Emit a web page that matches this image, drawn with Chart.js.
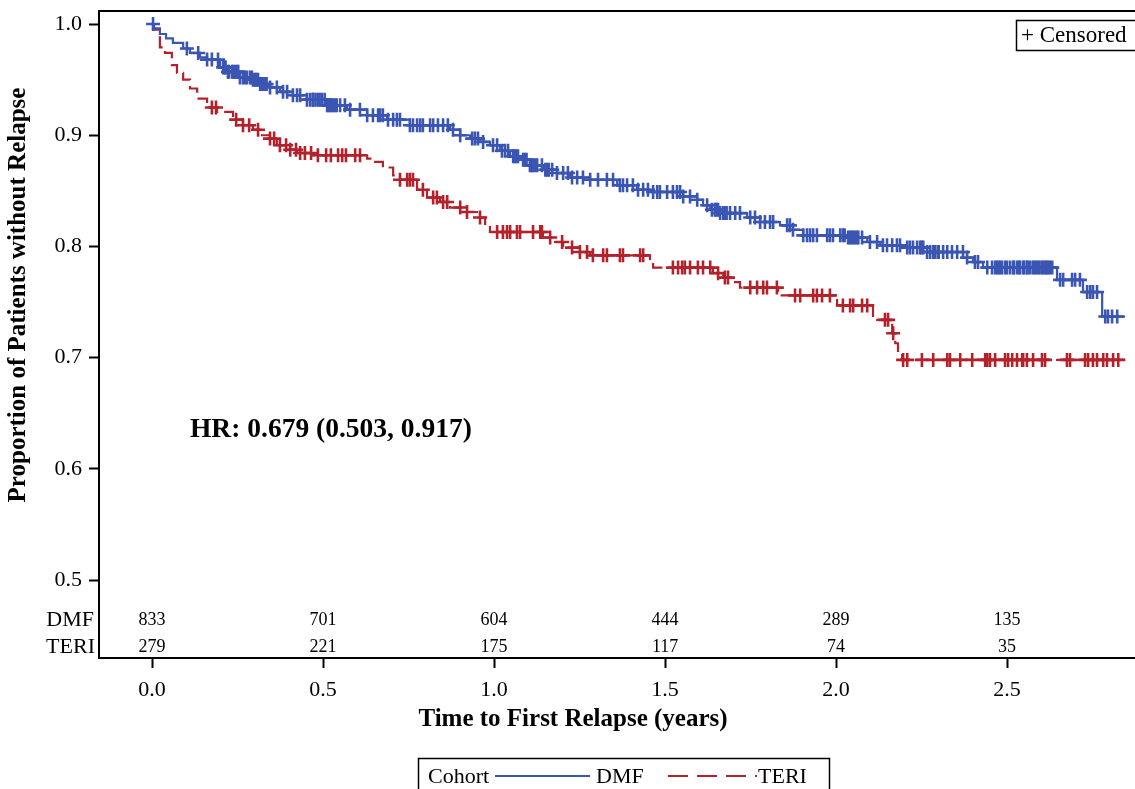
<!DOCTYPE html>
<html>
<head>
<meta charset="utf-8">
<script src="https://cdn.jsdelivr.net/npm/chart.js@4.4.1/dist/chart.umd.min.js"></script>
<style>
  html, body { margin: 0; padding: 0; background: #ffffff; }
  #wrap { width: 1135px; height: 789px; position: relative; }
</style>
</head>
<body>
<div id="wrap"><canvas id="c" width="1135" height="789"></canvas></div>
<script>
// ---------------- DATA ----------------
const xTicks = [0.0, 0.5, 1.0, 1.5, 2.0, 2.5];
const yTicks = [0.5, 0.6, 0.7, 0.8, 0.9, 1.0];

// DMF Kaplan-Meier step curve (time in years, survival after each step)
const dmfTimes = [0, 0.006, 0.023, 0.041, 0.061, 0.091, 0.111, 0.140, 0.161, 0.199, 0.219, 0.257, 0.295, 0.316, 0.336, 0.374, 0.412, 0.453, 0.512, 0.570, 0.629, 0.687, 0.754, 0.871, 0.901, 0.930, 0.959, 0.988, 1.018, 1.047, 1.076, 1.105, 1.143, 1.184, 1.222, 1.281, 1.360, 1.418, 1.456, 1.553, 1.594, 1.611, 1.632, 1.661, 1.740, 1.778, 1.836, 1.874, 1.904, 2.032, 2.091, 2.129, 2.208, 2.266, 2.383, 2.401, 2.430, 2.646, 2.722, 2.778, 2.845];
const dmfSurv = [1.000, 0.996, 0.991, 0.987, 0.983, 0.978, 0.974, 0.970, 0.968, 0.961, 0.957, 0.952, 0.950, 0.946, 0.943, 0.939, 0.936, 0.932, 0.927, 0.923, 0.918, 0.914, 0.909, 0.905, 0.900, 0.897, 0.894, 0.891, 0.886, 0.881, 0.878, 0.873, 0.869, 0.866, 0.862, 0.860, 0.855, 0.851, 0.849, 0.845, 0.842, 0.837, 0.833, 0.830, 0.826, 0.822, 0.819, 0.815, 0.810, 0.808, 0.804, 0.801, 0.799, 0.795, 0.790, 0.786, 0.781, 0.770, 0.759, 0.737, 0.737];

// TERI Kaplan-Meier step curve
const teriTimes = [0, 0.003, 0.023, 0.038, 0.058, 0.073, 0.091, 0.111, 0.132, 0.161, 0.190, 0.237, 0.266, 0.295, 0.316, 0.345, 0.365, 0.395, 0.424, 0.471, 0.629, 0.646, 0.675, 0.705, 0.725, 0.775, 0.804, 0.842, 0.871, 0.909, 0.950, 0.974, 0.988, 1.143, 1.173, 1.202, 1.251, 1.281, 1.456, 1.465, 1.640, 1.670, 1.699, 1.719, 1.830, 2.003, 2.108, 2.164, 2.173, 2.181, 2.193, 2.845];
const teriSurv = [1.000, 0.995, 0.979, 0.974, 0.963, 0.956, 0.950, 0.942, 0.933, 0.925, 0.921, 0.914, 0.909, 0.905, 0.900, 0.897, 0.891, 0.887, 0.884, 0.882, 0.879, 0.876, 0.871, 0.864, 0.860, 0.851, 0.844, 0.840, 0.835, 0.831, 0.826, 0.819, 0.813, 0.808, 0.804, 0.799, 0.795, 0.792, 0.786, 0.781, 0.776, 0.772, 0.768, 0.763, 0.756, 0.747, 0.734, 0.722, 0.713, 0.704, 0.698, 0.698];

// Censoring times (years)
const dmfCensor = [0.003, 0.102, 0.135, 0.161, 0.175, 0.193, 0.208, 0.213, 0.215, 0.222, 0.225, 0.234, 0.238, 0.243, 0.249, 0.252, 0.257, 0.266, 0.272, 0.278, 0.287, 0.292, 0.295, 0.301, 0.305, 0.310, 0.316, 0.322, 0.325, 0.330, 0.335, 0.345, 0.365, 0.383, 0.395, 0.412, 0.424, 0.433, 0.453, 0.462, 0.470, 0.471, 0.478, 0.485, 0.490, 0.497, 0.505, 0.512, 0.515, 0.520, 0.525, 0.529, 0.535, 0.540, 0.550, 0.564, 0.579, 0.608, 0.629, 0.646, 0.661, 0.667, 0.675, 0.690, 0.705, 0.716, 0.725, 0.754, 0.763, 0.775, 0.784, 0.792, 0.813, 0.822, 0.836, 0.851, 0.865, 0.880, 0.901, 0.936, 0.944, 0.953, 0.968, 0.997, 1.009, 1.023, 1.032, 1.041, 1.056, 1.060, 1.065, 1.070, 1.085, 1.090, 1.095, 1.105, 1.110, 1.114, 1.120, 1.126, 1.140, 1.150, 1.155, 1.160, 1.170, 1.184, 1.202, 1.216, 1.228, 1.243, 1.260, 1.281, 1.304, 1.330, 1.348, 1.368, 1.377, 1.389, 1.406, 1.421, 1.436, 1.450, 1.465, 1.477, 1.485, 1.506, 1.523, 1.535, 1.544, 1.553, 1.573, 1.594, 1.623, 1.637, 1.646, 1.650, 1.655, 1.661, 1.670, 1.675, 1.680, 1.690, 1.705, 1.719, 1.749, 1.763, 1.778, 1.792, 1.807, 1.816, 1.857, 1.865, 1.874, 1.904, 1.915, 1.924, 1.933, 1.944, 1.974, 1.982, 1.991, 2.012, 2.020, 2.025, 2.035, 2.041, 2.045, 2.050, 2.055, 2.061, 2.065, 2.076, 2.099, 2.120, 2.137, 2.149, 2.164, 2.178, 2.187, 2.208, 2.216, 2.225, 2.237, 2.246, 2.250, 2.255, 2.266, 2.275, 2.284, 2.290, 2.298, 2.300, 2.313, 2.325, 2.339, 2.354, 2.371, 2.383, 2.406, 2.415, 2.442, 2.456, 2.465, 2.470, 2.475, 2.480, 2.485, 2.494, 2.500, 2.509, 2.518, 2.520, 2.529, 2.535, 2.538, 2.547, 2.550, 2.558, 2.560, 2.567, 2.575, 2.580, 2.585, 2.591, 2.595, 2.602, 2.605, 2.611, 2.615, 2.620, 2.625, 2.632, 2.655, 2.664, 2.690, 2.699, 2.713, 2.734, 2.743, 2.751, 2.763, 2.787, 2.795, 2.807, 2.822];
const teriCensor = [0.175, 0.187, 0.246, 0.266, 0.284, 0.310, 0.345, 0.357, 0.374, 0.392, 0.404, 0.421, 0.433, 0.447, 0.465, 0.485, 0.509, 0.523, 0.544, 0.556, 0.567, 0.594, 0.608, 0.725, 0.746, 0.754, 0.763, 0.792, 0.822, 0.833, 0.851, 0.863, 0.901, 0.921, 0.959, 1.009, 1.026, 1.038, 1.047, 1.067, 1.076, 1.114, 1.135, 1.140, 1.164, 1.199, 1.228, 1.251, 1.272, 1.289, 1.319, 1.330, 1.368, 1.377, 1.427, 1.436, 1.523, 1.538, 1.550, 1.558, 1.573, 1.596, 1.611, 1.632, 1.655, 1.675, 1.684, 1.749, 1.769, 1.787, 1.798, 1.827, 1.880, 1.895, 1.933, 1.944, 1.959, 1.982, 2.020, 2.041, 2.050, 2.076, 2.091, 2.143, 2.152, 2.167, 2.196, 2.208, 2.251, 2.284, 2.325, 2.333, 2.363, 2.398, 2.436, 2.442, 2.450, 2.465, 2.494, 2.503, 2.515, 2.529, 2.544, 2.547, 2.558, 2.576, 2.602, 2.611, 2.675, 2.684, 2.728, 2.737, 2.751, 2.763, 2.781, 2.792, 2.810, 2.825];

// Numbers at risk
const riskTimes = [0.0, 0.5, 1.0, 1.5, 2.0, 2.5];
const riskDMF = [833, 701, 604, 444, 289, 135];
const riskTERI = [279, 221, 175, 117, 74, 35];

const seriesNames = ['DMF', 'TERI'];
const hrText = 'HR: 0.679 (0.503, 0.917)';
const xTitle = 'Time to First Relapse (years)';
const yTitle = 'Proportion of Patients without Relapse';

// ---------------- STYLE ----------------
const FF = '"Liberation Serif", "Times New Roman", Times, serif';
const BLUE = '#3a55b2';
const RED = '#b3212b';
const RED_DASH = [14, 6];

// Step lookup of the KM value at a censoring time
function survAt(times, surv, t) {
  let s = surv[0];
  for (let i = 0; i < times.length; i++) { if (times[i] <= t) s = surv[i]; else break; }
  return s;
}
const toPts = (ts, ss) => ts.map((t, i) => ({ x: t, y: ss[i] }));
const censorPts = (cs, ts, ss) => cs.map(t => ({ x: t, y: survAt(ts, ss, t) }));

const overlay = {
  id: 'overlay',
  afterDraw(chart) {
    const { ctx, chartArea: a, scales: { x, y } } = chart;
    ctx.save();
    // top frame line
    ctx.strokeStyle = '#000'; ctx.lineWidth = 2; ctx.setLineDash([]);
    ctx.beginPath(); ctx.moveTo(a.left - 1, a.top); ctx.lineTo(a.right + 10, a.top); ctx.stroke();

    ctx.fillStyle = '#000';
    // y axis title
    ctx.save();
    ctx.translate(19, 295);
    ctx.rotate(-Math.PI / 2);
    ctx.font = 'bold 25px ' + FF; ctx.textAlign = 'center'; ctx.textBaseline = 'middle';
    ctx.fillText(yTitle, 0, 0);
    ctx.restore();

    // x axis title
    ctx.font = 'bold 25px ' + FF; ctx.textAlign = 'center'; ctx.textBaseline = 'middle';
    ctx.fillText(xTitle, 573, 720);

    // HR annotation
    ctx.font = 'bold 27.5px ' + FF; ctx.textAlign = 'left'; ctx.textBaseline = 'middle';
    ctx.fillText(hrText, x.getPixelForValue(0.111), y.getPixelForValue(0.635));

    // at-risk table
    const rowY = [a.bottom - 38, a.bottom - 11];
    ctx.font = '22px ' + FF; ctx.textAlign = 'right';
    ctx.fillText(seriesNames[0], a.left - 5, rowY[0]);
    ctx.fillText(seriesNames[1], a.left - 4, rowY[1]);
    ctx.font = '18px ' + FF; ctx.textAlign = 'center';
    riskTimes.forEach((t, i) => {
      const px = x.getPixelForValue(t);
      ctx.fillText(String(riskDMF[i]), px, rowY[0]);
      ctx.fillText(String(riskTERI[i]), px, rowY[1]);
    });

    // "+ Censored" box
    ctx.lineWidth = 1.5;
    ctx.strokeRect(1016.5, 20.5, 130, 30);
    ctx.font = '23px ' + FF; ctx.textAlign = 'left'; ctx.textBaseline = 'middle';
    ctx.fillText('+ Censored', 1021, 36);

    // bottom legend
    const ly = 776;
    ctx.strokeRect(418.5, 758.5, 411, 40);
    ctx.font = '22px ' + FF; ctx.textBaseline = 'middle';
    ctx.fillText('Cohort', 428, ly + 1);
    ctx.lineWidth = 2;
    ctx.strokeStyle = BLUE; ctx.setLineDash([]);
    ctx.beginPath(); ctx.moveTo(495, ly); ctx.lineTo(590, ly); ctx.stroke();
    ctx.fillText(seriesNames[0], 596, ly + 1);
    ctx.strokeStyle = RED; ctx.setLineDash([20, 9]);
    ctx.beginPath(); ctx.moveTo(668, ly); ctx.lineTo(757, ly); ctx.stroke();
    ctx.setLineDash([]);
    ctx.fillText(seriesNames[1], 758, ly + 1);
    ctx.restore();
  }
};

new Chart(document.getElementById('c'), {
  type: 'line',
  data: {
    datasets: [
      { label: 'DMF', data: toPts(dmfTimes, dmfSurv), stepped: true, borderColor: BLUE, borderWidth: 2.2, pointRadius: 0, fill: false, order: 2 },
      { label: 'TERI', data: toPts(teriTimes, teriSurv), stepped: true, borderColor: RED, borderWidth: 2.2, borderDash: RED_DASH, pointRadius: 0, fill: false, order: 3 },
      { label: 'DMF censored', data: censorPts(dmfCensor, dmfTimes, dmfSurv), showLine: false, pointStyle: 'cross', pointRadius: 7, pointBorderWidth: 2.6, borderColor: BLUE, pointBorderColor: BLUE, order: 0 },
      { label: 'TERI censored', data: censorPts(teriCensor, teriTimes, teriSurv), showLine: false, pointStyle: 'cross', pointRadius: 7, pointBorderWidth: 2.6, borderColor: RED, pointBorderColor: RED, order: 1 }
    ]
  },
  options: {
    responsive: false,
    animation: false,
    events: [],
    layout: { autoPadding: false, padding: { top: 11, right: 0, bottom: 51, left: 0 } },
    plugins: { legend: { display: false }, tooltip: { enabled: false } },
    scales: {
      x: {
        type: 'linear', min: -0.155, max: 2.874,
        afterBuildTicks: s => { s.ticks = xTicks.map(v => ({ value: v })); },
        afterFit: s => { s.height = 80; s.paddingLeft = 0; s.paddingRight = 0; },
        ticks: { callback: v => Number(v).toFixed(1), font: { family: FF, size: 22 }, color: '#000', padding: 9, maxRotation: 0, autoSkip: false },
        grid: { drawOnChartArea: false, drawTicks: true, tickLength: 10, tickColor: '#000', tickWidth: 2 },
        border: { color: '#000', width: 2 },
        title: { display: false }
      },
      y: {
        type: 'linear', min: 0.43, max: 1.0117,
        afterBuildTicks: s => { s.ticks = yTicks.map(v => ({ value: v })); },
        afterFit: s => { s.width = 99; s.paddingTop = 0; s.paddingBottom = 0; },
        ticks: { callback: v => Number(v).toFixed(1), font: { family: FF, size: 22 }, color: '#000', padding: 7, autoSkip: false },
        grid: { drawOnChartArea: false, drawTicks: true, tickLength: 10, tickColor: '#000', tickWidth: 2 },
        border: { color: '#000', width: 2 },
        title: { display: false }
      }
    }
  },
  plugins: [overlay]
});
</script>
</body>
</html>
